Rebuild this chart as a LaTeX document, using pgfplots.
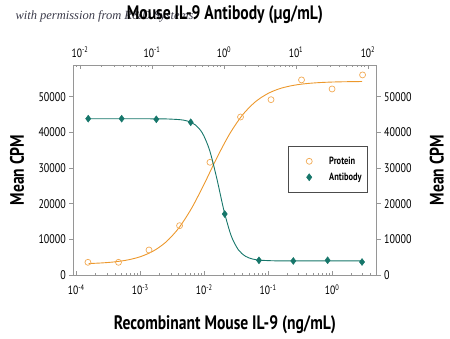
\documentclass[border=0pt]{standalone}
\usepackage{pgfplots}
\pgfplotsset{compat=1.18}
\usepackage{fontspec}
\setmainfont{PT Sans}[FakeStretch=0.8]
\newfontfamily\wmfont{Liberation Serif}
\definecolor{orangeL}{RGB}{236,152,44}
\definecolor{orangeM}{RGB}{242,170,84}
\definecolor{tealL}{RGB}{22,118,106}
\definecolor{axgray}{RGB}{150,150,150}
\definecolor{wmcol}{RGB}{60,60,75}

\pgfplotsset{
  base/.style={
    scale only axis, width=303.4pt, height=210pt, at={(0,0)}, anchor=south west,
    ymin=0, ymax=58880,
    axis line style={axgray, line width=0.6pt},
    tick style={axgray, line width=0.5pt},
    xtick align=inside, ytick align=outside,
    major tick length=4pt, minor tick length=2.5pt,
    ytick={0,10000,20000,30000,40000,50000},
    scaled y ticks=false,
    yticklabel style={/pgf/number format/fixed, /pgf/number format/1000 sep={},
      /pgf/number format/assume math mode=true, font=\fontsize{12.5}{14}\selectfont},
    xticklabel style={font=\fontsize{12}{14}\selectfont},
    xticklabel={10\textsuperscript{\pgfmathparse{int(round(\tick))}\pgfmathresult}},
    label style={font=\bfseries\fontsize{19.5}{22}\selectfont},
  },
}

\begin{document}
\begin{tikzpicture}
\useasboundingbox (-73.3pt,-63pt) rectangle (376.7pt,275pt);
\node[anchor=west, font=\wmfont\itshape\fontsize{12.5}{14}\selectfont, text=wmcol] at (-61.3pt,259pt) {with permission from R\&D Systems};

\begin{axis}[xmode=log, log basis x=10, base,
  xmin=8.97e-5, xmax=4.99,
  axis x line*=bottom, axis y line*=left,
  xticklabel style={yshift=-6pt},
  xlabel={Recombinant Mouse IL-9 (ng/mL)},
  ylabel={Mean CPM},
  xlabel style={at={(axis description cs:0.5,-0.238)}, anchor=center},
  ylabel style={at={(axis description cs:-0.185,0.5)}, anchor=center},
]
\addplot[orangeL, line width=0.9pt, smooth] coordinates {
 (0.000156,3210) (0.000251,3386) (0.000398,3685) (0.000631,4210) (0.001,5122)
 (0.00158,6668) (0.00251,9202) (0.00398,13106) (0.00631,18621) (0.01,25511)
 (0.0158,32882) (0.0251,39606) (0.0398,44881) (0.0631,48560) (0.1,50919)
 (0.158,52351) (0.251,53187) (0.398,53669) (0.631,53945) (1,54101)
 (1.585,54188) (2.95,54249)
};
\addplot[only marks, mark=o, mark size=3pt, orangeM, mark options={line width=0.7pt}] coordinates {
 (0.000152,3560) (0.000457,3560) (0.00137,7010) (0.00412,13830) (0.0123,31600)
 (0.037,44300) (0.111,49160) (0.333,54700) (1,52160) (3,56100)
};
\end{axis}

\begin{axis}[xmode=log, log basis x=10, base,
  xmin=0.00807, xmax=132.1,
  axis x line*=top, axis y line*=right,
  xticklabel style={yshift=4pt},
  xlabel={Mouse IL-9 Antibody (µg/mL)},
  ylabel={Mean CPM},
  xlabel style={at={(axis description cs:0.5,1.238)}, anchor=center},
  ylabel style={at={(axis description cs:1.198,0.5)}, anchor=center},
  legend style={at={(axis description cs:0.971,0.614)}, anchor=north east,
    draw=black!70, line width=0.5pt, font=\bfseries\fontsize{10.5}{12}\selectfont,
    inner xsep=4pt, inner ysep=8.5pt, row sep=3pt},
  legend cell align=left,
  legend image code/.code={\path (0pt,-3pt) rectangle (35pt,3pt); \draw[#1, only marks] plot coordinates {(17pt,0pt)};},
]
\addlegendimage{draw=none, mark=o, mark size=3pt, mark options={draw=orangeM, line width=0.7pt}}
\addlegendentry{Protein}
\addplot[tealL, line width=0.9pt, smooth, forget plot] coordinates {
 (0.0130,43800) (0.0316,43800) (0.0631,43799) (0.1,43794) (0.158,43758)
 (0.251,43530) (0.316,43120) (0.398,42117) (0.501,39791) (0.631,34982)
 (0.794,27095) (1,18017) (1.259,10997) (1.585,7059) (1.995,5235)
 (2.512,4466) (3.162,4155) (5.01,3982) (10,3952) (31.6,3950) (82.6,3950)
};
\addplot[draw=none, mark=diamond*, mark size=3.5pt, mark options={draw=tealL, fill=tealL}] coordinates {
 (0.0130,43830) (0.0379,43830) (0.1148,43660) (0.345,42820) (1.023,17100)
 (3.06,4120) (9.18,3930) (27.5,4120) (82.6,3650)
};
\addlegendentry{Antibody}
\end{axis}
\end{tikzpicture}
\end{document}
